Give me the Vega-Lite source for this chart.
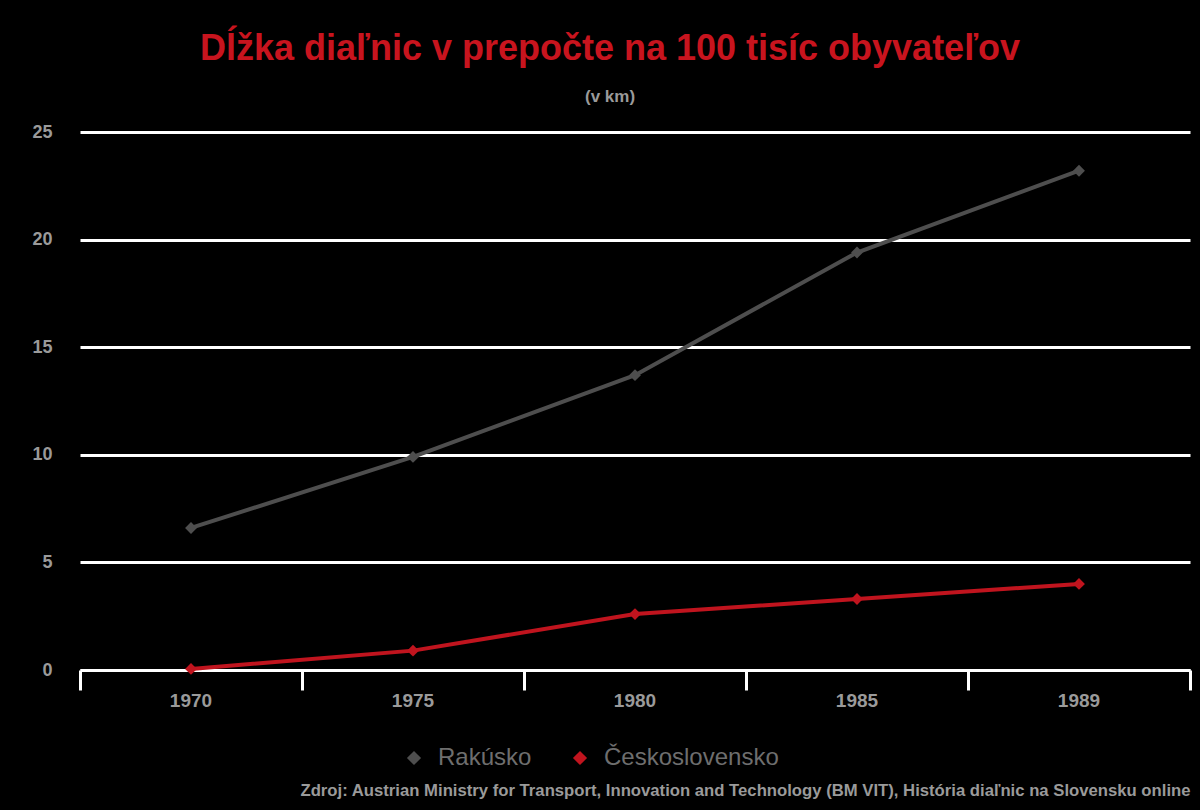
{
  "$schema": "https://vega.github.io/schema/vega-lite/v6.json",
  "autosize": {"type": "none"},
  "width": 1110,
  "height": 538,
  "padding": {"left": 80, "top": 132, "right": 10, "bottom": 140},
  "background": "#000000",
  "title": {
    "text": "Dĺžka diaľnic v prepočte na 100 tisíc obyvateľov",
    "subtitle": "(v km)",
    "anchor": "middle",
    "dx": -25,
    "offset": 17,
    "font": "Liberation Sans",
    "fontSize": 36,
    "fontWeight": "bold",
    "color": "#c8141e",
    "subtitleFont": "Liberation Sans",
    "subtitleFontSize": 17,
    "subtitleFontWeight": "bold",
    "subtitleColor": "#9a9a9a",
    "subtitlePadding": 21
  },
  "data": {
    "values": [
      {"rok": "1970", "krajina": "Rakúsko", "km": 6.6},
      {"rok": "1975", "krajina": "Rakúsko", "km": 9.9},
      {"rok": "1980", "krajina": "Rakúsko", "km": 13.7},
      {"rok": "1985", "krajina": "Rakúsko", "km": 19.4},
      {"rok": "1989", "krajina": "Rakúsko", "km": 23.2},
      {"rok": "1970", "krajina": "Československo", "km": 0.05},
      {"rok": "1975", "krajina": "Československo", "km": 0.9},
      {"rok": "1980", "krajina": "Československo", "km": 2.6},
      {"rok": "1985", "krajina": "Československo", "km": 3.3},
      {"rok": "1989", "krajina": "Československo", "km": 4.0}
    ]
  },
  "mark": {
    "type": "line",
    "strokeWidth": 4,
    "point": {"shape": "diamond", "size": 140, "filled": true}
  },
  "encoding": {
    "x": {
      "field": "rok",
      "type": "ordinal",
      "scale": {"type": "band", "paddingInner": 0, "paddingOuter": 0},
      "axis": {
        "title": "Zdroj: Austrian Ministry for Transport, Innovation and Technology (BM VIT), História diaľnic na Slovensku online",
        "titleAnchor": "end",
        "titleAlign": "right",
        "titleY": 112,
        "titleFont": "Liberation Sans",
        "titleFontSize": 16.7,
        "titleFontWeight": "bold",
        "titleColor": "#9a9a9a",
        "titleLimit": 1100,
        "labelAngle": 0,
        "labelFont": "Liberation Sans",
        "labelFontSize": 19,
        "labelFontWeight": "bold",
        "labelColor": "#9a9a9a",
        "labelPadding": 1,
        "bandPosition": 1,
        "tickExtra": true,
        "tickColor": "#ffffff",
        "tickWidth": 3,
        "tickSize": 20,
        "domainColor": "#ffffff",
        "domainWidth": 3,
        "grid": false
      }
    },
    "y": {
      "field": "km",
      "type": "quantitative",
      "scale": {"domain": [0, 25], "nice": false},
      "axis": {
        "title": null,
        "values": [0, 5, 10, 15, 20, 25],
        "labelFont": "Liberation Sans",
        "labelFontSize": 18,
        "labelFontWeight": "bold",
        "labelColor": "#9a9a9a",
        "labelPadding": 28,
        "ticks": false,
        "domain": false,
        "grid": true,
        "gridColor": "#ffffff",
        "gridWidth": 3
      }
    },
    "color": {
      "field": "krajina",
      "type": "nominal",
      "sort": ["Rakúsko", "Československo"],
      "scale": {"domain": ["Rakúsko", "Československo"], "range": ["#4e4e4e", "#c0141e"]},
      "legend": {
        "title": null,
        "orient": "none",
        "legendX": 322,
        "legendY": 614,
        "direction": "horizontal",
        "symbolType": "diamond",
        "symbolSize": 200,
        "symbolStrokeWidth": 0,
        "labelFont": "Liberation Sans",
        "labelFontSize": 24,
        "labelColor": "#6e6e6e",
        "labelOffset": 12,
        "labelLimit": 400,
        "columnPadding": 36
      }
    }
  },
  "config": {
    "view": {"stroke": null, "fill": "#000000"}
  }
}
